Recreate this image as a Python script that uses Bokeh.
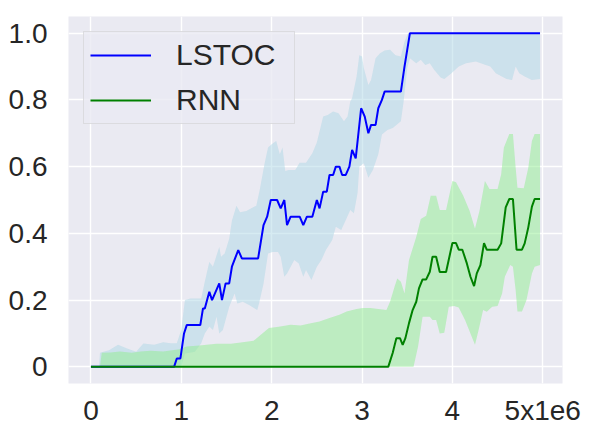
from bokeh.plotting import figure
from bokeh.models import Range1d, FixedTicker, Legend, LegendItem
from bokeh.embed import file_html
from bokeh.resources import INLINE

# ---- data (x in units of 1e6 steps) ----
lstoc_x = [0, 0.92, 0.95, 0.99, 1.03, 1.06, 1.21, 1.24, 1.26, 1.31, 1.34, 1.42, 1.45, 1.49, 1.53,
           1.56, 1.63, 1.67, 1.85, 1.91, 1.95, 1.99, 2.06, 2.10, 2.14, 2.17, 2.21, 2.31, 2.35, 2.39,
           2.45, 2.50, 2.53, 2.57, 2.61, 2.64, 2.68, 2.71, 2.75, 2.78, 2.82, 2.86, 2.89, 2.93, 2.99,
           3.03, 3.07, 3.10, 3.15, 3.18, 3.22, 3.25, 3.43, 3.47, 3.53, 4.97]
lstoc_mean = [0, 0, 0.025, 0.025, 0.10, 0.125, 0.125, 0.175, 0.175, 0.225, 0.20, 0.25, 0.20, 0.25, 0.25,
              0.30, 0.35, 0.325, 0.325, 0.425, 0.45, 0.50, 0.50, 0.475, 0.50, 0.425, 0.45, 0.45, 0.425, 0.45,
              0.45, 0.50, 0.475, 0.525, 0.525, 0.575, 0.575, 0.60, 0.60, 0.575, 0.575, 0.60, 0.65, 0.625, 0.775,
              0.75, 0.70, 0.725, 0.725, 0.775, 0.80, 0.825, 0.825, 0.90, 1.0, 1.0]

lstoc_upper_x = [0, 0.09, 0.10, 0.2, 0.3, 0.4, 0.5, 0.58, 0.7, 0.8, 0.88, 0.95, 1.0, 1.04, 1.10, 1.22,
                 1.26, 1.31, 1.35, 1.42, 1.44, 1.48, 1.53, 1.56, 1.61, 1.65, 1.72, 1.83,
                 1.87, 1.92, 1.96, 2.00, 2.05, 2.09, 2.12, 2.15, 2.19, 2.26, 2.31, 2.38, 2.45,
                 2.50, 2.57, 2.62, 2.68, 2.74, 2.80, 2.84, 2.87, 2.89, 2.94, 2.97, 3.0, 3.02, 3.07,
                 3.10, 3.15, 3.20, 3.25, 3.31, 3.37, 3.43, 3.47, 3.51, 4.97]
lstoc_upper = [0, 0, 0.042, 0.05, 0.066, 0.055, 0.045, 0.07, 0.066, 0.074, 0.071, 0.071, 0.111, 0.2, 0.205, 0.205,
               0.255, 0.314, 0.30, 0.359, 0.33, 0.34, 0.384, 0.438, 0.483, 0.463, 0.467, 0.483,
               0.533, 0.607, 0.657, 0.667, 0.677, 0.637, 0.657, 0.587, 0.59, 0.59, 0.612, 0.612, 0.64,
               0.672, 0.75, 0.755, 0.765, 0.76, 0.736, 0.75, 0.795, 0.805, 0.87, 0.934, 0.93, 0.895, 0.845,
               0.86, 0.925, 0.94, 0.948, 0.95, 0.934, 0.93, 0.974, 1.0, 1.0]

lstoc_lower_x = [0, 1.0, 1.04, 1.15, 1.22, 1.26, 1.31, 1.35, 1.39, 1.42, 1.46, 1.50, 1.53, 1.59, 1.62,
                 1.68, 1.75, 1.84, 1.86, 1.91, 1.96, 2.01, 2.07, 2.10, 2.14, 2.17, 2.25, 2.30, 2.35, 2.38,
                 2.44, 2.50, 2.55, 2.60, 2.67, 2.71, 2.77, 2.82, 2.87, 2.91, 2.95, 2.97, 3.02, 3.07, 3.12,
                 3.18, 3.22, 3.28, 3.34, 3.43, 3.46, 3.50, 3.53, 3.60, 3.65, 3.70, 3.75, 3.80, 3.87,
                 3.91, 3.99, 4.07, 4.15, 4.26, 4.37, 4.42, 4.48, 4.60, 4.66, 4.70, 4.74, 4.80, 4.88, 4.97]
lstoc_lower = [0, 0, 0.04, 0.045, 0.071, 0.10, 0.121, 0.11, 0.15, 0.10, 0.11, 0.15, 0.18, 0.22, 0.19,
               0.195, 0.185, 0.17, 0.19, 0.25, 0.34, 0.344, 0.344, 0.33, 0.27, 0.28, 0.32, 0.31, 0.27, 0.29,
               0.26, 0.30, 0.32, 0.35, 0.38, 0.42, 0.41, 0.44, 0.47, 0.46, 0.52, 0.60, 0.61, 0.567, 0.59,
               0.637, 0.696, 0.71, 0.716, 0.736, 0.795, 0.895, 0.925, 0.91, 0.92, 0.905, 0.91, 0.89, 0.867,
               0.863, 0.88, 0.90, 0.91, 0.915, 0.905, 0.90, 0.88, 0.863, 0.86, 0.90, 0.88, 0.87, 0.86, 0.863]

rnn_x = [0, 3.29, 3.34, 3.38, 3.42, 3.45, 3.48, 3.52, 3.56, 3.60, 3.63, 3.67, 3.71, 3.75, 3.78, 3.82,
         3.86, 3.93, 4.0, 4.04, 4.07, 4.11, 4.16, 4.20, 4.24, 4.27, 4.31, 4.35, 4.38, 4.50, 4.54,
         4.59, 4.63, 4.67, 4.71, 4.77, 4.80, 4.84, 4.88, 4.91, 4.97]
rnn_mean = [0, 0, 0.042, 0.086, 0.086, 0.066, 0.086, 0.131, 0.17, 0.195, 0.235, 0.262, 0.262, 0.285, 0.33, 0.33,
            0.284, 0.284, 0.371, 0.371, 0.351, 0.351, 0.31, 0.27, 0.242, 0.28, 0.305, 0.371, 0.351, 0.351, 0.37,
            0.478, 0.503, 0.503, 0.351, 0.351, 0.37, 0.418, 0.48, 0.503, 0.503]

rnn_upper_x = [0, 0.10, 0.12, 0.22, 0.32, 0.45, 0.55, 0.66, 0.8, 0.9, 0.98, 1.06, 1.2, 1.39, 1.55,
               1.68, 1.80, 1.88, 1.97, 2.08, 2.21, 2.32, 2.42, 2.53, 2.64, 2.75, 2.83, 2.94, 3.01,
               3.09, 3.27, 3.31, 3.36, 3.39, 3.43, 3.47, 3.52, 3.60, 3.65, 3.71, 3.76, 3.82, 3.86,
               3.93, 4.0, 4.04, 4.12, 4.19, 4.25, 4.30, 4.36, 4.41, 4.50, 4.54, 4.57, 4.63, 4.67,
               4.70, 4.72, 4.79, 4.84, 4.88, 4.91, 4.97]
rnn_upper = [0, 0, 0.042, 0.043, 0.046, 0.042, 0.046, 0.048, 0.046, 0.05, 0.053, 0.061, 0.064, 0.069, 0.069,
             0.074, 0.078, 0.096, 0.116, 0.12, 0.126, 0.124, 0.13, 0.136, 0.146, 0.156, 0.166, 0.173, 0.176,
             0.176, 0.17, 0.195, 0.24, 0.265, 0.255, 0.22, 0.32, 0.389, 0.443, 0.453, 0.513, 0.513, 0.47,
             0.47, 0.557, 0.553, 0.513, 0.468, 0.414, 0.468, 0.557, 0.533, 0.533, 0.577, 0.657, 0.698, 0.698,
             0.597, 0.537, 0.535, 0.597, 0.677, 0.698, 0.698]

rnn_lower_x = [0, 3.57, 3.62, 3.67, 3.75, 3.78, 3.82, 3.86, 3.91, 3.96, 4.02, 4.07, 4.14, 4.20, 4.25,
               4.29, 4.34, 4.38, 4.44, 4.50, 4.55, 4.58, 4.64, 4.67, 4.70, 4.72, 4.77, 4.82, 4.88, 4.91, 4.97]
rnn_lower = [0, 0, 0.061, 0.15, 0.15, 0.14, 0.14, 0.10, 0.102, 0.18, 0.182, 0.178, 0.14, 0.10, 0.066,
             0.11, 0.17, 0.165, 0.18, 0.182, 0.22, 0.27, 0.305, 0.30, 0.23, 0.166, 0.166, 0.2, 0.28, 0.30, 0.305]

x_ticks = [0, 1, 2, 3, 4, 5]
x_tick_labels = ["0", "1", "2", "3", "4", "5x1e6"]
y_ticks = [0, 0.2, 0.4, 0.6, 0.8, 1.0]
y_tick_labels = ["0", "0.2", "0.4", "0.6", "0.8", "1.0"]

FONT = "Liberation Sans"
TXT = "#262626"

p = figure(width=596, height=429, output_backend="svg", toolbar_location=None,
           min_border_left=68, min_border_right=34, min_border_top=16, min_border_bottom=46,
           x_range=Range1d(-0.2485, 5.2185), y_range=Range1d(-0.05, 1.05))
p.background_fill_color = "#EAEAF2"
p.border_fill_color = "white"
p.outline_line_color = None

for ax in (p.xaxis[0], p.yaxis[0]):
    ax.axis_line_color = None
    ax.major_tick_line_color = None
    ax.minor_tick_line_color = None
    ax.major_label_text_font = FONT
    ax.major_label_text_font_size = "28px"
    ax.major_label_text_color = TXT

p.xaxis[0].ticker = FixedTicker(ticks=x_ticks)
p.xaxis[0].major_label_overrides = {t: l for t, l in zip(x_ticks, x_tick_labels)}
p.xaxis[0].major_label_standoff = 5
p.yaxis[0].ticker = FixedTicker(ticks=y_ticks)
p.yaxis[0].major_label_overrides = {t: l for t, l in zip(y_ticks, y_tick_labels)}
p.yaxis[0].major_label_standoff = 15

p.xgrid.grid_line_color = "white"
p.ygrid.grid_line_color = "white"
p.xgrid.grid_line_width = 1.4
p.ygrid.grid_line_width = 1.4

# bands
p.patch(lstoc_upper_x + lstoc_lower_x[::-1], lstoc_upper + lstoc_lower[::-1],
        fill_color="lightblue", fill_alpha=0.5, line_color=None)
p.patch(rnn_upper_x + rnn_lower_x[::-1], rnn_upper + rnn_lower[::-1],
        fill_color="lightgreen", fill_alpha=0.5, line_color=None)

# lines
r1 = p.line(lstoc_x, lstoc_mean, line_color="blue", line_width=2)
r2 = p.line(rnn_x, rnn_mean, line_color="green", line_width=2)

legend = Legend(items=[LegendItem(label="LSTOC", renderers=[r1]),
                       LegendItem(label="RNN", renderers=[r2])],
                location="top_left", margin=15, padding=6, spacing=11,
                glyph_width=61, glyph_height=34, label_height=34, label_width=112,
                label_standoff=25,
                label_text_font=FONT, label_text_font_size="30px", label_text_color=TXT,
                border_line_color="#CCCCCC", border_line_width=1,
                background_fill_color="#EAEAF2", background_fill_alpha=0.8)
p.add_layout(legend, "center")

open("out.html", "w").write(file_html(p, INLINE))
